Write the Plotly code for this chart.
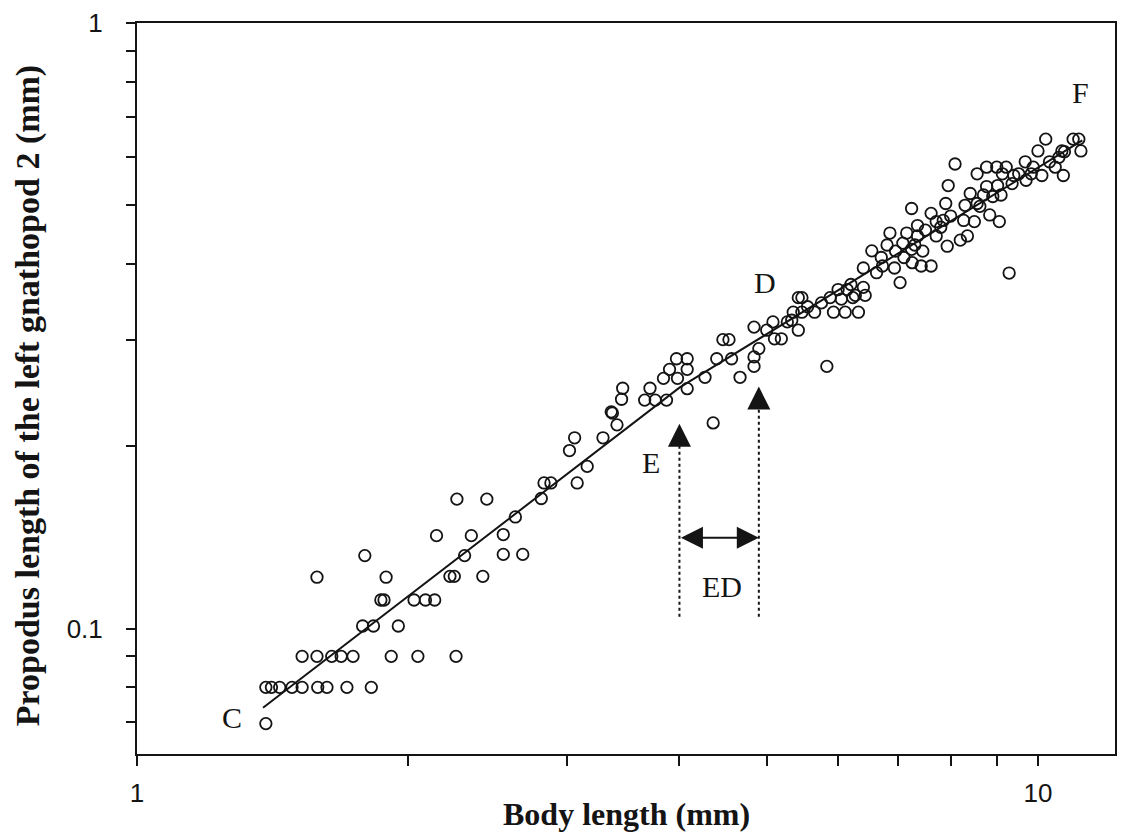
import numpy as np
import plotly.graph_objects as go

# ---- data (body length mm, propodus length mm) ----
body_length = [
    1.39, 1.39, 1.41, 1.44, 1.486, 1.525, 1.587, 1.625, 1.71, 1.82,
    1.525, 1.584, 1.645, 1.685, 1.737, 1.915, 2.05, 2.26,
    1.78, 1.83, 1.95,
    1.865, 1.88, 2.03, 2.09, 2.14,
    1.584, 1.89, 1.79, 2.225, 2.25, 2.42, 2.31,
    2.15, 2.35, 2.55, 2.55, 2.68, 2.265, 2.445, 2.63,
    2.81, 2.83, 2.88, 3.08, 3.16, 3.02, 3.06, 3.29,
    3.36, 3.41, 3.45, 3.46, 3.37,
    3.66, 3.76, 3.87, 3.71,
    3.84, 3.90, 3.97, 4.08, 3.98, 4.08, 4.08,
    4.27, 4.36, 4.40, 4.47, 4.54, 4.57, 4.67,
    4.84, 4.84, 4.90, 4.84,
    5.00, 5.08, 5.10, 5.19, 5.27, 5.33, 5.35, 5.42, 5.42, 5.47, 5.47, 5.65,
    5.83,
    5.88, 5.93, 6.11, 6.32,
    6.00, 6.14, 6.23, 6.40, 6.40, 6.62, 6.93, 6.27, 6.43,
    6.54, 6.72,
    6.85, 7.03, 7.08, 7.15, 7.24, 7.25, 7.35, 7.35, 7.42, 7.61, 7.24, 7.61,
    7.71, 7.71, 7.85, 7.90, 7.93, 7.95, 8.09, 8.20, 8.27, 8.35, 8.41, 8.56,
    8.56, 8.62, 8.77, 8.77, 8.84, 8.91, 9.00, 9.02, 9.06, 9.13, 9.22, 9.29,
    9.36, 9.52, 9.68, 9.83, 9.88, 10.0, 10.2, 10.3, 10.45, 10.55, 10.67,
    10.63, 10.7, 10.94, 11.1, 11.16, 10.1,
    6.70, 6.95, 7.10, 7.30, 7.50, 7.80, 8.00, 8.30, 8.50, 8.70, 9.10, 9.40,
    9.70, 6.80, 7.45, 5.55, 5.75, 6.05, 6.20,
]
propodus_length = [
    0.0697, 0.080, 0.080, 0.080, 0.080, 0.080, 0.080, 0.080, 0.080, 0.080,
    0.090, 0.090, 0.090, 0.090, 0.090, 0.090, 0.090, 0.090,
    0.101, 0.101, 0.101,
    0.1115, 0.1115, 0.1115, 0.1115, 0.1115,
    0.1216, 0.1216, 0.132, 0.122, 0.122, 0.122, 0.132,
    0.1424, 0.1424, 0.143, 0.1326, 0.1326, 0.1636, 0.1636, 0.1529,
    0.164, 0.174, 0.174, 0.174, 0.1853, 0.1968, 0.2066, 0.2066,
    0.228, 0.217, 0.2392, 0.2494, 0.227,
    0.2384, 0.2384, 0.2384, 0.2494,
    0.259, 0.268, 0.279, 0.279, 0.259, 0.268, 0.249,
    0.260, 0.2186, 0.279, 0.300, 0.300, 0.279, 0.260,
    0.271, 0.3147, 0.290, 0.281,
    0.311, 0.321, 0.301, 0.301, 0.321, 0.323, 0.333, 0.311, 0.352, 0.352, 0.333, 0.333,
    0.271,
    0.352, 0.333, 0.333, 0.333,
    0.363, 0.363, 0.352, 0.366, 0.394, 0.387, 0.394, 0.355, 0.355,
    0.4205, 0.397,
    0.450, 0.3727, 0.433, 0.450, 0.423, 0.402, 0.445, 0.463, 0.397, 0.397, 0.494, 0.485,
    0.470, 0.445, 0.472, 0.5035, 0.428, 0.539, 0.585, 0.438, 0.472, 0.445, 0.523, 0.5035,
    0.5636, 0.498, 0.578, 0.537, 0.482, 0.517, 0.578, 0.539, 0.470, 0.5636, 0.578, 0.3865,
    0.543, 0.5636, 0.590, 0.5636, 0.578, 0.6148, 0.643, 0.590, 0.578, 0.600, 0.560,
    0.6148, 0.613, 0.643, 0.643, 0.6148, 0.560,
    0.410, 0.420, 0.410, 0.430, 0.455, 0.460, 0.480, 0.500, 0.470, 0.520, 0.520, 0.560,
    0.550, 0.430, 0.420, 0.340, 0.345, 0.350, 0.370,
]

# fitted allometric line (break near E)
fit_x = [1.38, 4.0, 11.2]
fit_y = [0.074, 0.25, 0.64]

# E-D interval markers
e_x, d_x = 4.0, 4.9
e_tip, d_tip = 0.218, 0.251
line_bottom = 0.1046
ed_y = 0.1413

x_tickvals = [1, 2, 3, 4, 5, 6, 7, 8, 9, 10]
x_ticktext = ["1", "", "", "", "", "", "", "", "", "10"]
y_tickvals = [0.07, 0.08, 0.09, 0.1, 0.2, 0.3, 0.4, 0.5, 0.6, 0.7, 0.8, 0.9, 1]
y_ticktext = ["", "", "", "0.1", "", "", "", "", "", "", "", "", "1"]

labels = [("C", 1.275, 0.0713), ("D", 4.98, 0.3725), ("E", 3.72, 0.188),
          ("F", 11.16, 0.767), ("ED", 4.46, 0.1175)]

INK = "#141414"
SERIF = "Liberation Serif, Times New Roman, serif"
SANS = "Liberation Sans, Arial, sans-serif"

fig = go.Figure()

fig.add_trace(go.Scatter(
    x=body_length, y=propodus_length, mode="markers",
    marker=dict(symbol="circle-open", size=11.5, color=INK, line=dict(width=1.8, color=INK)),
    showlegend=False, hoverinfo="x+y"))

fig.add_trace(go.Scatter(
    x=fit_x, y=fit_y, mode="lines", line=dict(color=INK, width=2),
    showlegend=False, hoverinfo="skip"))

for xv, top in [(e_x, e_tip), (d_x, d_tip)]:
    fig.add_trace(go.Scatter(
        x=[xv, xv], y=[line_bottom, top * 0.93], mode="lines",
        line=dict(color=INK, width=2, dash="dot"),
        showlegend=False, hoverinfo="skip"))

lg = np.log10
annotations = []
for xv, top in [(e_x, e_tip), (d_x, d_tip)]:
    annotations.append(dict(
        x=lg(xv), y=lg(top), ax=lg(xv), ay=lg(top) - 0.03,
        xref="x", yref="y", axref="x", ayref="y", text="",
        showarrow=True, arrowhead=2, arrowsize=2.3, arrowwidth=2, arrowcolor=INK))
annotations.append(dict(
    x=lg(d_x), y=lg(ed_y), ax=lg(e_x), ay=lg(ed_y),
    xref="x", yref="y", axref="x", ayref="y", text="",
    showarrow=True, arrowhead=2, startarrowhead=2, arrowside="end+start",
    arrowsize=2.2, startarrowsize=2.2, arrowwidth=2, arrowcolor=INK))

for t, xv, yv in labels:
    annotations.append(dict(
        x=lg(xv), y=lg(yv), xref="x", yref="y", text=t, showarrow=False,
        font=dict(family=SERIF, size=30, color=INK)))

annotations.append(dict(
    x=0.5, y=-0.082, xref="paper", yref="paper", text="<b>Body length (mm)</b>",
    showarrow=False, xanchor="center", yanchor="middle",
    font=dict(family=SERIF, size=32, color=INK)))
annotations.append(dict(
    x=-0.112, y=0.49, xref="paper", yref="paper",
    text="<b>Propodus length of the left gnathopod 2 (mm)</b>",
    showarrow=False, xanchor="center", yanchor="middle", textangle=-90,
    font=dict(family=SERIF, size=34, color=INK)))

# page body has an 8px default margin, so the figure is offset by 8px
fig.update_layout(
    width=1117, height=826,
    margin=dict(l=129, r=10, t=15, b=80),
    paper_bgcolor="white", plot_bgcolor="white",
    annotations=annotations,
    xaxis=dict(type="log", range=[0, 1.0855], tickvals=x_tickvals, ticktext=x_ticktext,
               showline=True, linecolor=INK, linewidth=2, mirror=True,
               ticks="outside", ticklen=10, tickwidth=2, tickcolor=INK,
               ticklabelstandoff=5, automargin=False, ticklabeloverflow="allow",
               showgrid=False, zeroline=False,
               tickfont=dict(family=SANS, size=26, color=INK)),
    yaxis=dict(type="log", range=[-1.207, 0], tickvals=y_tickvals, ticktext=y_ticktext,
               showline=True, linecolor=INK, linewidth=2, mirror=True,
               ticks="outside", ticklen=9, tickwidth=2, tickcolor=INK,
               ticklabelstandoff=18, automargin=False, ticklabeloverflow="allow",
               showgrid=False, zeroline=False,
               tickfont=dict(family=SANS, size=26, color=INK)),
)

fig.write_html("out.html")
